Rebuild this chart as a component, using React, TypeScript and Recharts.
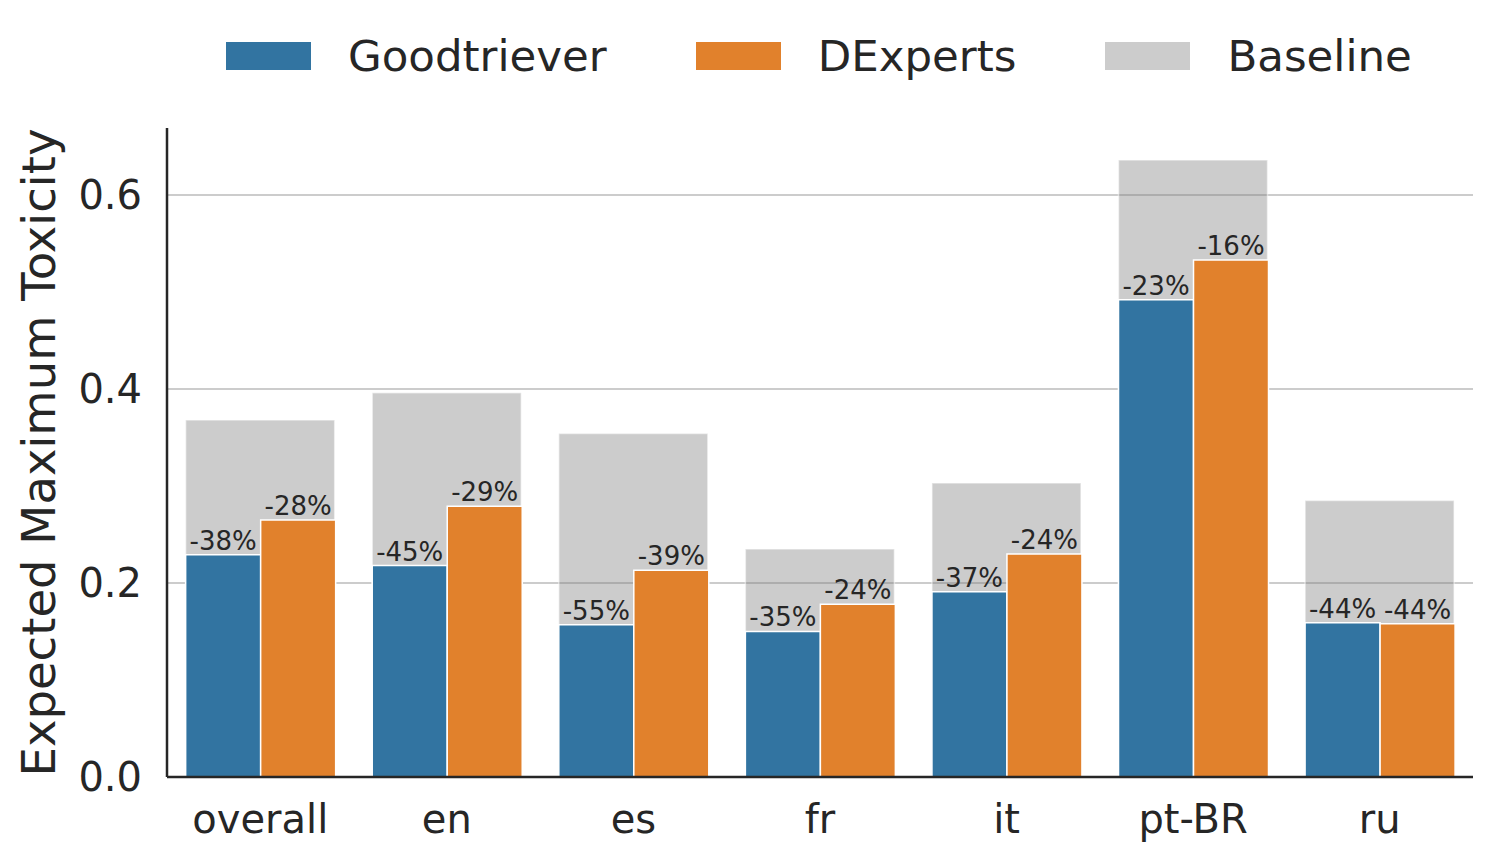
import * as React from "react";
import {
  Bar,
  BarChart,
  CartesianGrid,
  LabelList,
  XAxis,
  YAxis,
} from "recharts";

const categories = ["overall", "en", "es", "fr", "it", "pt-BR", "ru"];
const goodtriever = [0.229, 0.218, 0.157, 0.15, 0.191, 0.492, 0.159];
const dexperts = [0.265, 0.279, 0.213, 0.178, 0.23, 0.533, 0.158];
const baseline = [0.368, 0.396, 0.354, 0.235, 0.303, 0.636, 0.285];
const goodLabels = ["-38%", "-45%", "-55%", "-35%", "-37%", "-23%", "-44%"];
const dexLabels = ["-28%", "-29%", "-39%", "-24%", "-24%", "-16%", "-44%"];
const yTicks = [0, 0.2, 0.4, 0.6];
const Y_MAX = 0.669;

const BLUE = "#3274a1";
const ORANGE = "#e1812c";
const TEXT = "#262626";
const FONT = "'DejaVu Sans', sans-serif";

const data = categories.map((c, i) => ({
  name: c,
  goodtriever: goodtriever[i],
  dexperts: dexperts[i],
  baseline: baseline[i],
  gLabel: goodLabels[i],
  dLabel: dexLabels[i],
}));

const legendItems = [
  { name: "Goodtriever", color: BLUE },
  { name: "DExperts", color: ORANGE },
  { name: "Baseline", color: "#cccccc" },
];

function YLabel(props: any) {
  const vb = props.viewBox ?? { y: 128, height: 649 };
  const cy = vb.y + vb.height / 2;
  return (
    <text
      x={55}
      y={cy}
      transform={`rotate(-90 55 ${cy})`}
      textAnchor="middle"
      fontSize={46.5}
      fontFamily={FONT}
      fill={TEXT}
    >
      Expected Maximum Toxicity
    </text>
  );
}

// grid lines only at the y ticks, not at the top edge of the domain
function gridYs({ yAxis, offset }: any) {
  const s = yAxis?.scale;
  if (typeof s === "function") return yTicks.map((t) => s(t));
  if (s && typeof s.map === "function") return yTicks.map((t) => s.map(t));
  return yTicks.map((t) => offset.top + offset.height * (1 - t / Y_MAX));
}

export default function App() {
  return (
    <div
      style={{
        position: "absolute",
        left: 0,
        top: 0,
        width: 1494,
        height: 863,
        background: "#fff",
        fontFamily: FONT,
      }}
    >
      <div
        style={{
          position: "absolute",
          left: 226,
          top: 42,
          display: "flex",
          alignItems: "center",
          gap: 89,
        }}
      >
        {legendItems.map((it) => (
          <div key={it.name} style={{ display: "flex", alignItems: "center", gap: 37 }}>
            <span
              style={{
                display: "inline-block",
                width: 85,
                height: 28,
                background: it.color,
              }}
            />
            <span style={{ fontSize: 43.5, lineHeight: "28px", color: TEXT, whiteSpace: "nowrap" }}>
              {it.name}
            </span>
          </div>
        ))}
      </div>
      <BarChart
        width={1494}
        height={863}
        data={data}
        margin={{ top: 128, right: 21, left: 0, bottom: 0 }}
        barCategoryGap="10%"
        barGap={0}
      >
        <CartesianGrid
          vertical={false}
          stroke="#cccccc"
          strokeWidth={2}
          horizontalCoordinatesGenerator={gridYs}
        />
        <XAxis
          dataKey="name"
          height={86}
          tickLine={false}
          tickSize={0}
          tickMargin={28}
          axisLine={{ stroke: TEXT, strokeWidth: 2.5 }}
          tick={{ fontSize: 40, fontFamily: FONT, fill: TEXT }}
        />
        <XAxis dataKey="name" xAxisId="base" hide />
        <YAxis
          width={167}
          domain={[0, Y_MAX]}
          ticks={yTicks}
          tickFormatter={(v: number) => v.toFixed(1)}
          tickLine={false}
          tickSize={0}
          tickMargin={25}
          axisLine={{ stroke: TEXT, strokeWidth: 2.5 }}
          tick={{ fontSize: 40, fontFamily: FONT, fill: TEXT }}
          label={<YLabel />}
        />
        <Bar
          dataKey="baseline"
          xAxisId="base"
          fill="#808080"
          fillOpacity={0.4}
          stroke="#ffffff"
          strokeOpacity={0.5}
          strokeWidth={1.5}
          isAnimationActive={false}
        />
        <Bar
          dataKey="goodtriever"
          fill={BLUE}
          stroke="#ffffff"
          strokeWidth={1.5}
          isAnimationActive={false}
        >
          <LabelList
            dataKey="gLabel"
            position="top"
            offset={5}
            fontSize={26}
            fontFamily={FONT}
            fill={TEXT}
          />
        </Bar>
        <Bar
          dataKey="dexperts"
          fill={ORANGE}
          stroke="#ffffff"
          strokeWidth={1.5}
          isAnimationActive={false}
        >
          <LabelList
            dataKey="dLabel"
            position="top"
            offset={5}
            fontSize={26}
            fontFamily={FONT}
            fill={TEXT}
          />
        </Bar>
      </BarChart>
    </div>
  );
}
